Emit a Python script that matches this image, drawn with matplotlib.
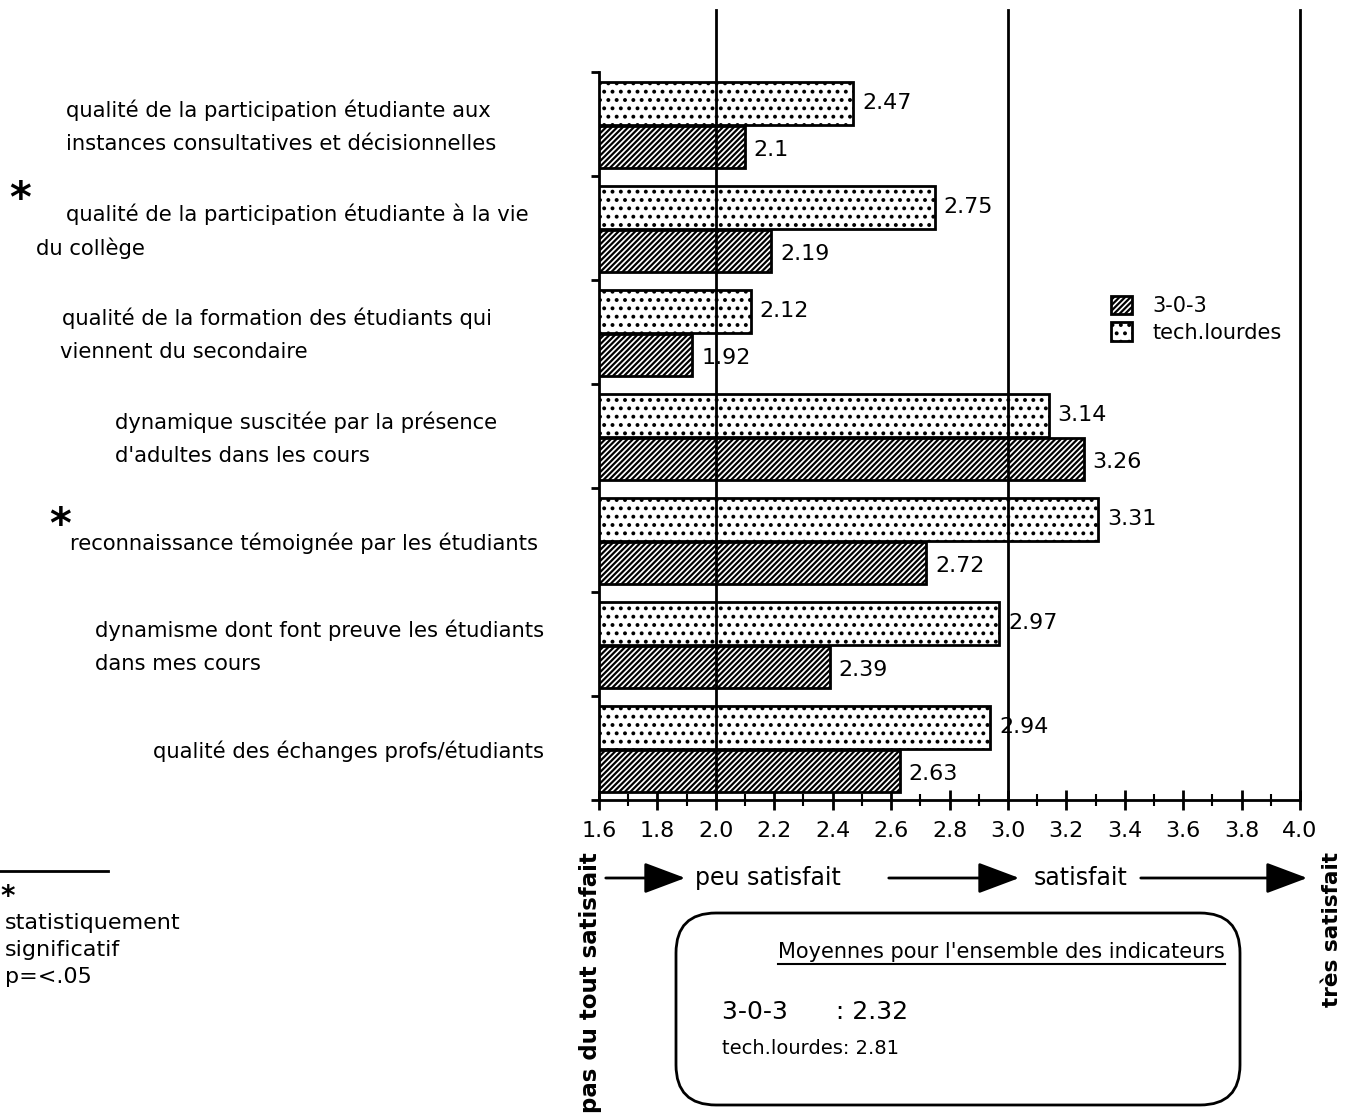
import numpy as np
import matplotlib as mpl
import matplotlib.pyplot as plt
from matplotlib.patches import Rectangle, FancyBboxPatch, FancyArrowPatch
from matplotlib.lines import Line2D
import matplotlib.transforms as mtrans

# data
categories = [
    "qualité de la participation étudiante aux\ninstances consultatives et décisionnelles",
    "qualité de la participation étudiante à la vie\ndu collège",
    "qualité de la formation des étudiants qui\nviennent du secondaire",
    "dynamique suscitée par la présence\nd'adultes dans les cours",
    "reconnaissance témoignée par les étudiants",
    "dynamisme dont font preuve les étudiants\ndans mes cours",
    "qualité des échanges profs/étudiants",
]
significant = [False, True, False, False, True, False, False]
tech_lourdes = [2.47, 2.75, 2.12, 3.14, 3.31, 2.97, 2.94]
trois_0_3 = [2.1, 2.19, 1.92, 3.26, 2.72, 2.39, 2.63]
tech_labels = ['2.47', '2.75', '2.12', '3.14', '3.31', '2.97', '2.94']
t303_labels = ['2.1', '2.19', '1.92', '3.26', '2.72', '2.39', '2.63']
mean_303 = '2.32'
mean_tech = '2.81'
xticks = np.arange(1.6, 4.01, 0.2)

# layout: left edge (px) of each label line, asterisk centres (px)
label_x = [[66, 66], [66, 36], [62, 60], [115, 115], [70], [95, 95], [153]]
star_xy = {1: (20, 200), 4: (60, 526)}

W, H = 1346, 1113
mpl.rcParams['font.family'] = ['DejaVu Sans']
mpl.rcParams['hatch.linewidth'] = 1.6
mpl.rcParams['axes.linewidth'] = 2

fig = plt.figure(figsize=(W/100, H/100), dpi=100)
ax = fig.add_axes([599/W, 1-800/H, 701/W, 728/H])


def fx(x):
    return x/W


def fy(y):
    return 1-y/H


n = len(categories)
pos = np.arange(n)
ax.barh(pos+0.3, np.array(tech_lourdes)-1.6, left=1.6, height=0.41,
        color='white', edgecolor='black', linewidth=2, hatch='..', zorder=3)
ax.barh(pos+0.72, np.array(trois_0_3)-1.6, left=1.6, height=0.41,
        color='white', edgecolor='black', linewidth=2, hatch='//////', zorder=3)

for i in range(n):
    ax.text(tech_lourdes[i]+0.03, i+0.3, tech_labels[i], va='center',
            ha='left', fontsize=16, zorder=5)
    ax.text(trois_0_3[i]+0.03, i+0.75, t303_labels[i], va='center',
            ha='left', fontsize=16, zorder=5)

ax.set_xlim(1.6, 4.0)
ax.set_ylim(n, 0)
for s in ['top', 'right']:
    ax.spines[s].set_visible(False)

# reference lines going above the plot
for xv in [2.0, 3.0, 4.0]:
    ax.plot([xv, xv], [0, 1.085], color='black', lw=2,
            transform=ax.get_xaxis_transform(), clip_on=False, zorder=4)

ax.set_xticks(xticks)
ax.set_xticklabels([f'{v:.1f}' for v in xticks], fontsize=16)
ax.set_xticks(np.arange(1.7, 4.0, 0.2), minor=True)
ax.tick_params(axis='x', which='major', direction='inout', length=14, width=2, pad=8)
ax.tick_params(axis='x', which='minor', direction='inout', length=8, width=1.5)
ax.set_yticks(np.arange(0, n+1))
ax.set_yticklabels([])
ax.tick_params(axis='y', direction='out', length=6, width=2)

# category labels
blend = mtrans.blended_transform_factory(fig.transFigure, ax.transData)
for i, lab in enumerate(categories):
    lines = lab.split('\n')
    k = len(lines)
    for j, line in enumerate(lines):
        y = i+0.53+(j-(k-1)/2)*0.32
        ax.text(fx(label_x[i][j]), y, line, transform=blend, ha='left',
                va='center', fontsize=15.2)
    if significant[i]:
        sx, sy = star_xy[i]
        fig.text(fx(sx), fy(sy), '*', ha='center', va='center',
                 fontsize=30, fontweight='bold')

# legend
handles = [Rectangle((0, 0), 1, 1, facecolor='white', edgecolor='black', lw=2, hatch='//////'),
           Rectangle((0, 0), 1, 1, facecolor='white', edgecolor='black', lw=2, hatch='..')]
fig.legend(handles, ['3-0-3', 'tech.lourdes'], loc='upper left',
           bbox_to_anchor=(fx(1092), fy(277)), frameon=False, fontsize=15,
           handlelength=1.0, handleheight=1.0, handletextpad=1.0, labelspacing=0.3)

# satisfaction scale
fig.text(fx(768), fy(878), 'peu satisfait', ha='center', va='center', fontsize=17)
fig.text(fx(1081), fy(878), 'satisfait', ha='center', va='center', fontsize=17)
for a, b in [(603, 688), (886, 1022), (1138, 1310)]:
    fig.add_artist(FancyArrowPatch((fx(a), fy(878)), (fx(b), fy(878)),
                                   transform=fig.transFigure,
                                   arrowstyle='-|>,head_length=1.6,head_width=0.6',
                                   mutation_scale=16, lw=2, color='black'))
fig.text(fx(590), fy(852), 'pas du tout satisfait', rotation=90, ha='center',
         va='top', fontsize=16.5, fontweight='bold')
fig.text(fx(1332), fy(852), 'très satisfait', rotation=90, ha='center',
         va='top', fontsize=15.5, fontweight='bold')

# means box
ident = mtrans.IdentityTransform()
box = FancyBboxPatch((676, H-1105), 564, 192,
                     boxstyle='round,pad=0,rounding_size=40',
                     transform=ident, facecolor='none', edgecolor='black', lw=2)
fig.add_artist(box)
title = fig.text(fx(1225), fy(952), "Moyennes pour l'ensemble des indicateurs",
                 ha='right', va='center', fontsize=15)
fig.text(fx(722), fy(1012), f'3-0-3      : {mean_303}', ha='left', va='center', fontsize=18)
fig.text(fx(722), fy(1048), f'tech.lourdes: {mean_tech}', ha='left', va='center', fontsize=14)

# footnote
fig.add_artist(Line2D([0, fx(108)], [fy(871), fy(871)], color='black', lw=2))
fig.text(fx(0), fy(897), '*', ha='left', va='center', fontsize=20, fontweight='bold')
fig.text(fx(5), fy(950), 'statistiquement\nsignificatif\np=<.05', ha='left',
         va='center', fontsize=16, linespacing=1.45)

fig.canvas.draw()
bb = title.get_window_extent()
fig.add_artist(Line2D([bb.x0, bb.x1], [bb.y0-2, bb.y0-2], transform=ident,
                      color='black', lw=1.5))

fig.savefig('out.png', dpi=100)
